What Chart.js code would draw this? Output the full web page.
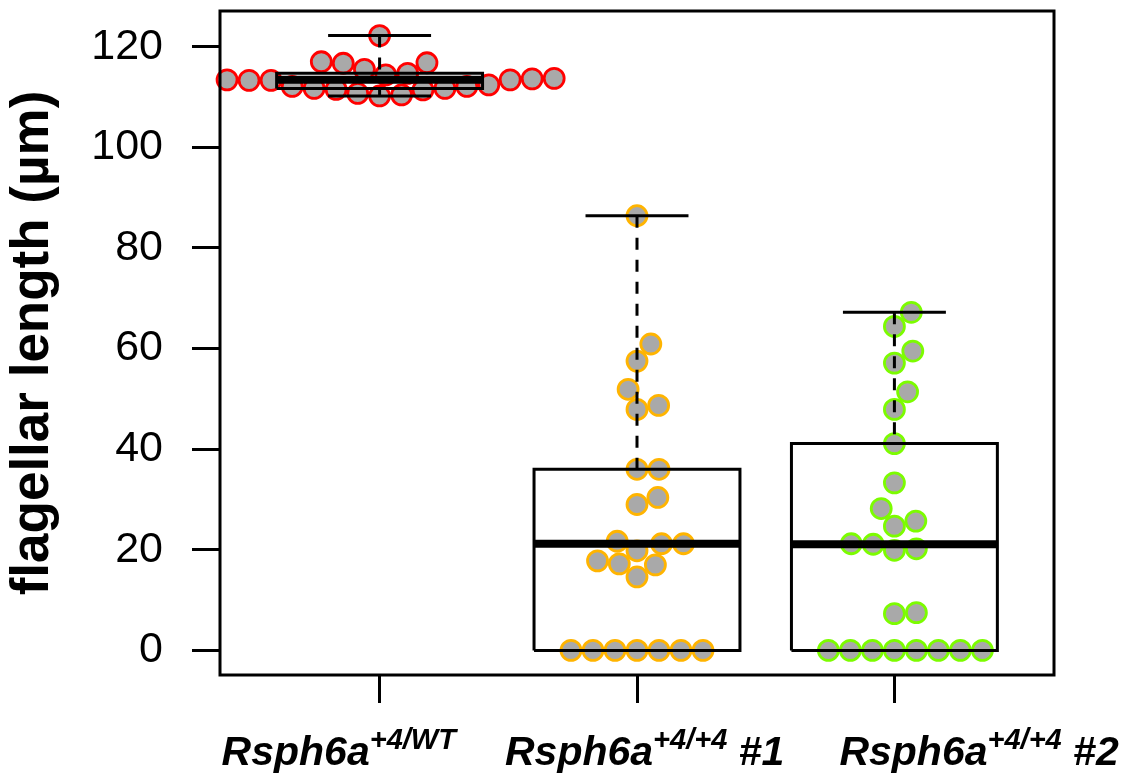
<!DOCTYPE html>
<html>
<head>
<meta charset="utf-8">
<script src="https://cdn.jsdelivr.net/npm/chart.js@4/dist/chart.umd.min.js"></script>
<style>
html,body{margin:0;padding:0;background:#fff;}
#wrap{width:1127px;height:776px;position:relative;}
</style>
</head>
<body>
<div id="wrap"><canvas id="c"></canvas></div>
<script>
// ---------- data ----------
const groupNames = ['Rsph6a', 'Rsph6a', 'Rsph6a'];
const groupSuperscripts = ['+4/WT', '+4/+4', '+4/+4'];
const groupSuffixes = ['', ' #1', ' #2'];
const groupPositions = [1, 2, 3];

const wtLengths = [113.4, 113.3, 113.7, 114.7, 112.1, 111.7, 111.5, 110.7, 110.2, 110.4,
                   111.4, 111.7, 112.1, 114.7, 112.4, 113.4, 113.3, 113.6, 113.6, 116.7,
                   115.5, 114.4, 116.8, 117.0, 122.2];
const mut1Lengths = [86.4, 60.9, 57.5, 51.9, 47.9, 48.7, 36.0, 36.0, 29.0, 30.4,
                     21.7, 21.2, 21.2, 19.8, 17.8, 17.2, 17.0, 14.6,
                     0, 0, 0, 0, 0, 0, 0];
const mut2Lengths = [67.2, 64.4, 59.5, 57.1, 51.4, 47.9, 41.1, 33.3, 28.2, 25.7,
                     24.7, 21.2, 21.1, 20.2, 19.9, 7.5, 7.3,
                     0, 0, 0, 0, 0, 0, 0, 0];
const yTickValues = [0, 20, 40, 60, 80, 100, 120];
const yTitle = 'flagellar length (µm)';

const groupValues = [wtLengths, mut1Lengths, mut2Lengths];

// ---------- styles ----------
const style = {
  pointFill: '#a9a9a9',
  pointBorders: ['#ff0000', '#ffb400', '#7cfc00'],
  pointRadius: 10,
  pointBorderWidth: 2.8,
  swarmSpacing: 22,
  boxWex: 0.8,
  stapleWex: 0.5,
  lineW: 3,
  medianW: 8,
  dash: [12, 10],
  font: "'Liberation Sans', Arial, sans-serif",
  labelShift: [-158, -132, -55],
  labelBaseline: 765,
  labelSize: 41,
  supSize: 29,
  supRaise: 16
};

// ---------- stats (R boxplot.stats, whiskers to the data extremes) ----------
function fivenum(v) {
  const x = [...v].sort((a, b) => a - b);
  const n = x.length;
  const n4 = Math.floor((n + 3) / 2) / 2;
  const d = [1, n4, (n + 1) / 2, n + 1 - n4, n];
  return d.map(di => 0.5 * (x[Math.floor(di) - 1] + x[Math.ceil(di) - 1]));
}
function boxStats(v) {
  return fivenum(v);
}

// ---------- axis ranges like R ----------
const allVals = groupValues.flat();
const dMin = Math.min(...allVals), dMax = Math.max(...allVals);
const yMin = dMin - 0.04 * (dMax - dMin);
const yMax = dMax + 0.04 * (dMax - dMin);
const xMin = 0.5 - 0.04 * 3, xMax = 3.5 + 0.04 * 3;

// ---------- datasets ----------
const datasets = [];
const lineDs = (pts, width, dash) => ({
  data: pts.map(p => ({x: p[0], y: p[1]})),
  showLine: true, borderColor: '#000', backgroundColor: '#000',
  borderWidth: width, borderDash: dash || [], pointRadius: 0, pointHoverRadius: 0,
  fill: false, tension: 0, order: 0, clip: false,
  borderCapStyle: 'butt', borderJoinStyle: 'miter'
});
groupValues.forEach((vals, gi) => {
  const c = groupPositions[gi];
  const s = boxStats(vals);
  const hw = style.boxWex / 2, sw = style.boxWex * style.stapleWex / 2;
  datasets.push(lineDs([[c, s[4]], [c, s[3]]], style.lineW, style.dash));
  datasets.push(lineDs([[c, s[0]], [c, s[1]]], style.lineW, style.dash));
  datasets.push(lineDs([[c - sw, s[4]], [c + sw, s[4]]], style.lineW));
  datasets.push(lineDs([[c - sw, s[0]], [c + sw, s[0]]], style.lineW));
  datasets.push(lineDs([[c - hw, s[1]], [c + hw, s[1]], [c + hw, s[3]], [c - hw, s[3]], [c - hw, s[1]]], style.lineW));
  datasets.push(lineDs([[c - hw, s[2]], [c + hw, s[2]]], style.medianW));
});
const pointDsIndex = [];
groupValues.forEach((vals, gi) => {
  pointDsIndex.push(datasets.length);
  datasets.push({
    data: vals.map(v => ({x: groupPositions[gi], y: v})),
    showLine: false,
    pointRadius: style.pointRadius, pointHoverRadius: style.pointRadius,
    pointBorderWidth: style.pointBorderWidth,
    pointBackgroundColor: style.pointFill,
    pointBorderColor: style.pointBorders[gi],
    order: 1, clip: false
  });
});

// ---------- beeswarm (R 'swarm' method, ascending priority) ----------
function swarmOffsets(vals, toPix, s) {
  const idx = vals.map((v, i) => i).sort((a, b) => (vals[a] - vals[b]) || (a - b));
  const placed = [];
  const off = new Array(vals.length).fill(0);
  for (const i of idx) {
    const y = toPix(vals[i]);
    const near = placed.filter(p => Math.abs(p.y - y) < s);
    let best = 0;
    if (near.length) {
      const d = near.map(p => Math.sqrt(Math.abs(s * s - (p.y - y) ** 2)));
      const cands = [0, ...near.map((p, k) => p.x + d[k]), ...near.map((p, k) => p.x - d[k])];
      let bestAbs = Infinity;
      for (const c of cands) {
        const bad = near.some(p => (p.x - c) ** 2 + (p.y - y) ** 2 < 0.999 * s * s);
        if (bad) continue;
        if (Math.abs(c) < bestAbs) { bestAbs = Math.abs(c); best = c; }
      }
    }
    off[i] = best;
    placed.push({x: best, y});
  }
  return off;
}

// ---------- plugins ----------
const framePlugin = {
  id: 'frame',
  afterDatasetsDraw(chart) {
    const {ctx, chartArea: a} = chart;
    ctx.save();
    ctx.strokeStyle = '#000';
    ctx.lineWidth = style.lineW;
    ctx.strokeRect(a.left, a.top, a.right - a.left, a.bottom - a.top);
    ctx.restore();
  }
};
const xLabelPlugin = {
  id: 'xlabels',
  afterDraw(chart) {
    const {ctx} = chart;
    const xs = chart.scales.x;
    ctx.save();
    ctx.fillStyle = '#000';
    ctx.textBaseline = 'alphabetic';
    ctx.textAlign = 'left';
    groupPositions.forEach((pos, i) => {
      let x = xs.getPixelForValue(pos) + style.labelShift[i];
      const y = style.labelBaseline;
      ctx.font = `italic bold ${style.labelSize}px ${style.font}`;
      ctx.fillText(groupNames[i], x, y);
      x += ctx.measureText(groupNames[i]).width;
      ctx.font = `italic bold ${style.supSize}px ${style.font}`;
      ctx.fillText(groupSuperscripts[i], x, y - style.supRaise);
      x += ctx.measureText(groupSuperscripts[i]).width;
      if (groupSuffixes[i]) {
        ctx.font = `italic bold ${style.labelSize}px ${style.font}`;
        ctx.fillText(groupSuffixes[i], x, y);
      }
    });
    ctx.restore();
  }
};

const zeroPad = s => { s.paddingTop = 0; s.paddingBottom = 0; s.paddingLeft = 0; s.paddingRight = 0; };

// ---------- chart ----------
const chart = new Chart(document.getElementById('c'), {
  type: 'scatter',
  data: {datasets},
  options: {
    responsive: true,
    maintainAspectRatio: false,
    animation: false,
    events: [],
    layout: {autoPadding: false, padding: {left: 0, top: 11, right: 73, bottom: 0}},
    plugins: {legend: {display: false}, tooltip: {enabled: false}},
    scales: {
      x: {
        type: 'linear', position: 'bottom', min: xMin, max: xMax,
        afterFit: s => { s.height = 101; zeroPad(s); },
        afterBuildTicks: s => { s.ticks = groupPositions.map(v => ({value: v})); },
        ticks: {display: false},
        grid: {drawOnChartArea: false, drawTicks: true, tickLength: 28, tickColor: '#000', tickWidth: style.lineW},
        border: {display: false}
      },
      y: {
        type: 'linear', min: yMin, max: yMax,
        afterFit: s => { s.width = 220; zeroPad(s); },
        afterBuildTicks: s => { s.ticks = yTickValues.map(v => ({value: v})); },
        ticks: {color: '#000', font: {family: style.font, size: 43}, padding: 29},
        grid: {drawOnChartArea: false, drawTicks: true, tickLength: 28, tickColor: '#000', tickWidth: style.lineW},
        border: {display: false},
        title: {display: true, text: yTitle, color: '#000',
                font: {family: style.font, size: 53, weight: 'bold'}, padding: {top: 2, bottom: 0}}
      }
    }
  },
  plugins: [framePlugin, xLabelPlugin]
});

// second pass: place swarm points from the scales
(function placeSwarm() {
  const ys = chart.scales.y, xs = chart.scales.x;
  const pxPerX = xs.getPixelForValue(1) - xs.getPixelForValue(0);
  groupValues.forEach((vals, gi) => {
    const offs = swarmOffsets(vals, v => ys.getPixelForValue(v), style.swarmSpacing);
    chart.data.datasets[pointDsIndex[gi]].data =
      vals.map((v, i) => ({x: groupPositions[gi] + offs[i] / pxPerX, y: v}));
  });
  chart.update('none');
})();
</script>
</body>
</html>
